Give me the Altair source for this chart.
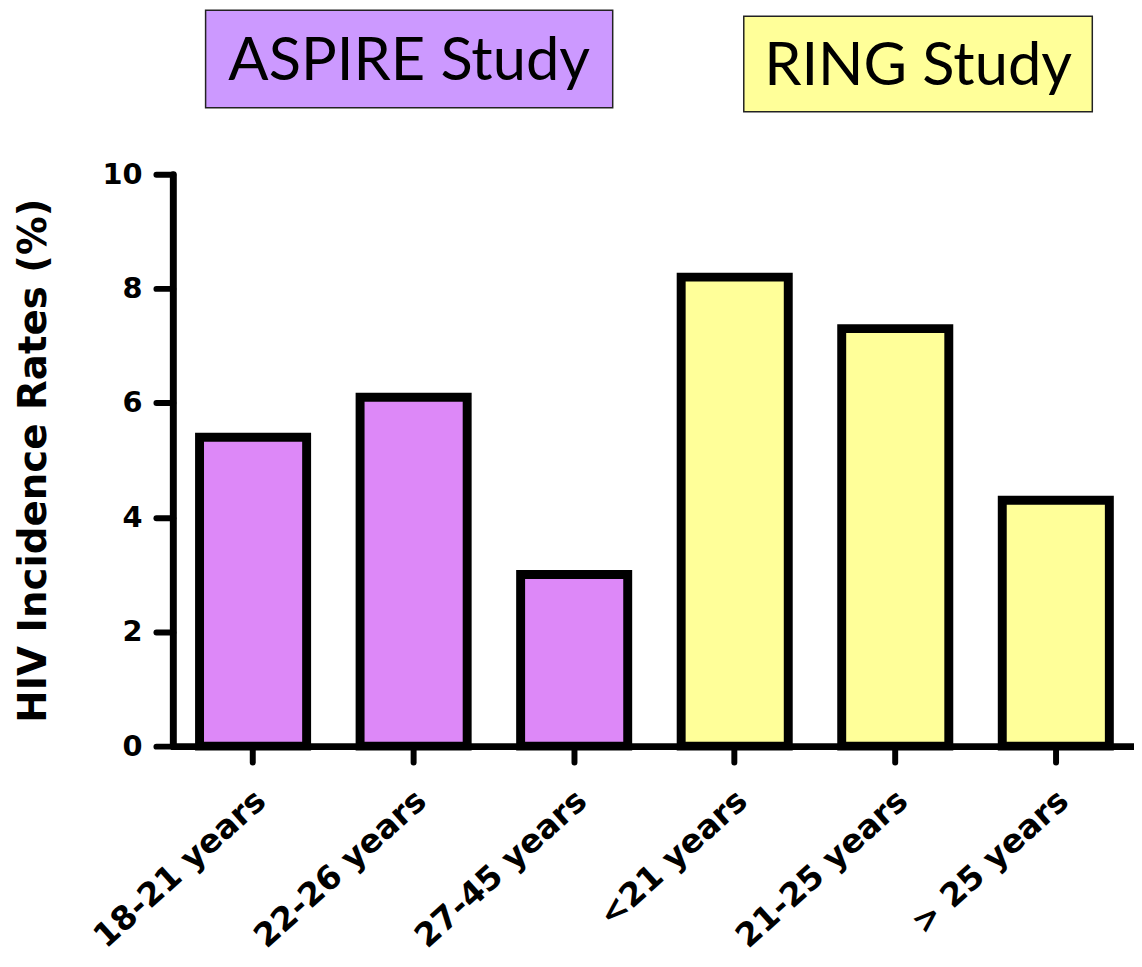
import altair as alt
import pandas as pd

categories = ["18-21 years", "22-26 years", "27-45 years", "<21 years", "21-25 years", "> 25 years"]
rates = [5.4, 6.1, 3.0, 8.2, 7.3, 4.3]
studies = ["ASPIRE", "ASPIRE", "ASPIRE", "RING", "RING", "RING"]
study_names = ["ASPIRE", "RING"]
study_titles = ["ASPIRE Study", "RING Study"]
bar_colors = ["#DD88F8", "#FFFF99"]
box_colors = ["#CC99FF", "#FFFF99"]
y_ticks = [0, 2, 4, 6, 8, 10]
y_title = "HIV Incidence Rates (%)"

df = pd.DataFrame({"category": categories, "rate": rates, "study": studies})

bars = alt.Chart(df).mark_bar(stroke="black", strokeWidth=9, strokeJoin="miter").encode(
    x=alt.X(
        "category:N",
        sort=categories,
        scale=alt.Scale(paddingInner=0.333, paddingOuter=0.16, align=0.52, round=False),
        axis=alt.Axis(
            title=None,
            labelAngle=318,
            labelAlign="right",
            labelBaseline="middle",
            labelFontSize=33,
            labelPadding=34,
            labelOffset=8,
            labelLimit=0,
            tickSize=16,
        ),
    ),
    y=alt.Y(
        "rate:Q",
        scale=alt.Scale(domain=[0, 10], nice=False),
        axis=alt.Axis(
            values=y_ticks,
            title=y_title,
            labelFontSize=29,
            labelPadding=14,
            tickSize=17,
            titleFontSize=39,
            titlePadding=49,
        ),
    ),
    fill=alt.Fill("study:N", scale=alt.Scale(domain=study_names, range=bar_colors), legend=None),
)


def title_box(i, x1, x2, y1, y2, ty):
    d = pd.DataFrame({"title": [study_titles[i]]})
    rect = alt.Chart(d).mark_rect(fill=box_colors[i], stroke="#222222", strokeWidth=1.5).encode(
        x=alt.value(x1), x2=alt.value(x2), y=alt.value(y1), y2=alt.value(y2)
    )
    text = alt.Chart(d).mark_text(
        font="Lato", fontSize=60, baseline="alphabetic", align="center", color="black"
    ).encode(x=alt.value((x1 + x2) / 2), y=alt.value(ty), text="title:N")
    return rect + text


box1 = title_box(0, 33, 443, -165, -67, -95)
box2 = title_box(1, 575, 926, -159, -63, -90)

chart = alt.layer(bars, box1, box2).properties(
    width=968,
    height=576,
    autosize=alt.AutoSizeParams(type="none"),
    padding={"left": 166, "top": 164, "right": 0, "bottom": 211},
).configure_view(stroke=None).configure_axis(
    domainColor="black",
    domainWidth=7,
    domainCap="round",
    tickColor="black",
    tickWidth=6,
    tickCap="round",
    grid=False,
    labelFont="DejaVu Sans",
    labelFontWeight="bold",
    labelColor="black",
    titleFont="DejaVu Sans",
    titleFontWeight="bold",
    titleColor="black",
)

chart.save("out.html", embed_options={"renderer": "svg", "actions": False})
